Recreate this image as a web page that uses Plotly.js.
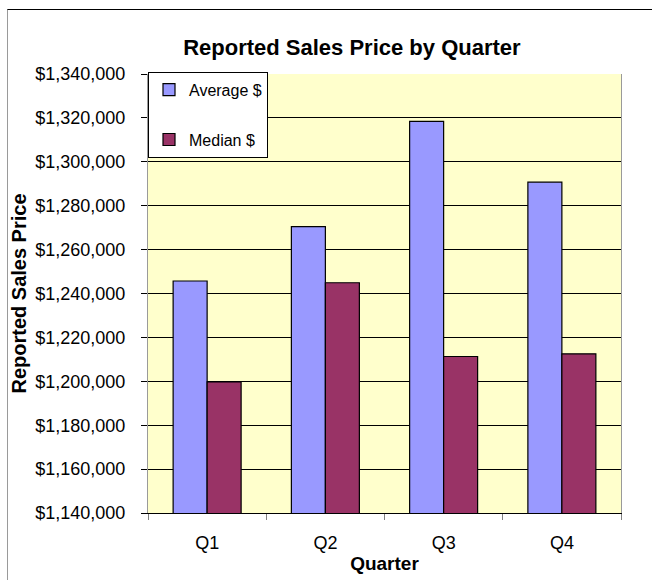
<!DOCTYPE html>
<html>
<head>
<meta charset="utf-8">
<script src="https://cdn.plot.ly/plotly-3.0.1.min.js"></script>
<style>
  html, body { margin: 0; padding: 0; background: #ffffff; width: 652px; height: 580px; overflow: hidden; }
  #frame { position: absolute; left: 7px; top: 9px; width: 645px; height: 571px;
           border-top: 1px solid #000000; border-left: 1px solid #9a9a9a; box-sizing: border-box; }
  #chart { width: 644px; height: 570px; }
</style>
</head>
<body>
<div id="frame"><div id="chart"></div></div>
<script>
const quarters = ["Q1", "Q2", "Q3", "Q4"];
const averagePrice = [1245700, 1270500, 1318400, 1290700];
const medianPrice  = [1199700, 1244900, 1211300, 1212500];
const yTicks = [1140000, 1160000, 1180000, 1200000, 1220000, 1240000, 1260000, 1280000, 1300000, 1320000, 1340000];

const FONT = "Liberation Sans, Arial, sans-serif";

const traces = [
  { type: "bar", name: "Average $", x: quarters, y: averagePrice, legendgroup: "a",
    marker: { color: "#9999FF", line: { color: "#000000", width: 1.2 } } },
  { type: "bar", name: "Median $", x: quarters, y: medianPrice, legendgroup: "b",
    marker: { color: "#993366", line: { color: "#000000", width: 1.2 } } }
];

const layout = {
  width: 644, height: 570,
  margin: { l: 140, r: 31, t: 64, b: 67, pad: 0 },
  paper_bgcolor: "#ffffff",
  plot_bgcolor: "#FFFFCC",
  font: { family: FONT, size: 18, color: "#000000" },
  barmode: "group",
  bargap: 0.425,
  bargroupgap: 0,
  title: { text: "Reported Sales Price by Quarter", font: { family: FONT, size: 22, weight: "bold", color: "#000000" },
           xref: "container", x: 0.534, xanchor: "center", yref: "container", y: 0.935, yanchor: "middle" },
  xaxis: {
    type: "category",
    title: { text: "Quarter", font: { family: FONT, size: 19, weight: "bold" }, standoff: 5 },
    automargin: false,
    showline: true, linecolor: "#000000", linewidth: 1,
    ticks: "outside", tickson: "boundaries", ticklen: 6, tickcolor: "#808080",
    ticklabelstandoff: 13,
    tickfont: { family: FONT, size: 18 },
    showgrid: false
  },
  yaxis: {
    range: [1140000, 1340000],
    tickvals: yTicks,
    tickformat: "$,.0f",
    title: { text: "Reported Sales Price", font: { family: FONT, size: 20, weight: "bold" }, standoff: 3 },
    automargin: false,
    showline: true, mirror: true, linecolor: "#9a9a9a", linewidth: 1,
    ticks: "outside", ticklen: 6, tickcolor: "#000000",
    ticklabelstandoff: 12,
    tickfont: { family: FONT, size: 18 },
    showgrid: true, gridcolor: "#000000", gridwidth: 1,
    zeroline: false
  },
  showlegend: true,
  legend: {
    x: 0, xanchor: "left", y: 1.005, yanchor: "top",
    bgcolor: "#ffffff", bordercolor: "#000000", borderwidth: 1,
    font: { family: FONT, size: 16, color: "#000000" },
    traceorder: "grouped", tracegroupgap: 26,
    itemwidth: 30
  }
};

Plotly.newPlot("chart", traces, layout, { displayModeBar: false, staticPlot: true });
</script>
</body>
</html>
